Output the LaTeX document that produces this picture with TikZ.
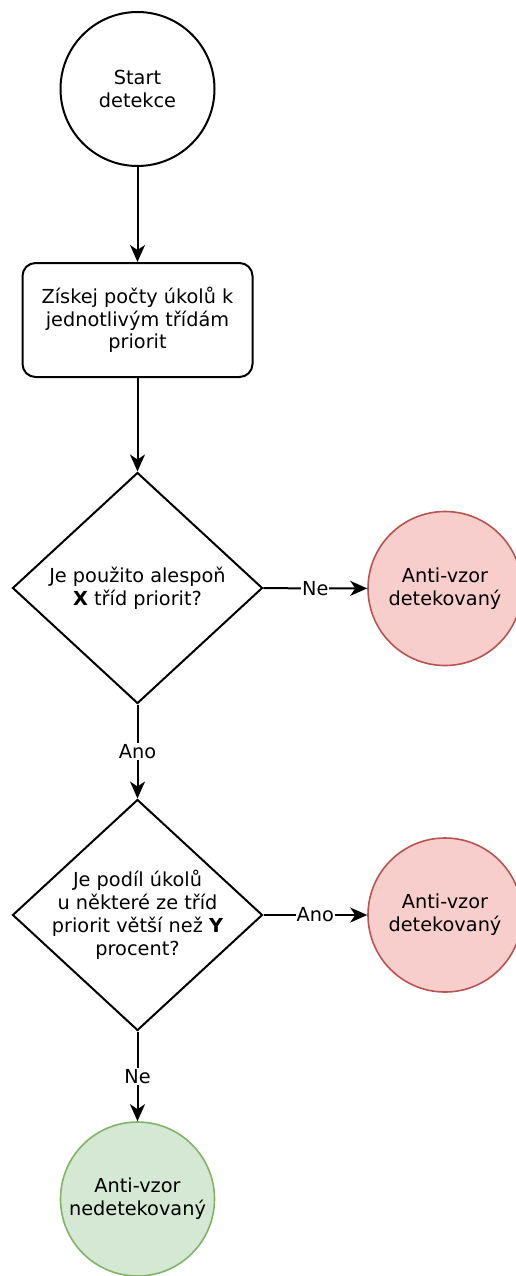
\documentclass[tikz,border=0pt]{standalone}
\usepackage{fontspec}
\setmainfont{DejaVu Sans}
\usetikzlibrary{shapes.geometric,arrows.meta}
\definecolor{redfill}{HTML}{F8CECC}
\definecolor{redline}{HTML}{B85450}
\definecolor{greenfill}{HTML}{D5E8D4}
\definecolor{greenline}{HTML}{82B366}

\begin{document}
\begin{tikzpicture}[x=1pt,y=-1pt,
  every node/.style={font=\fontsize{19.3}{22.8}\selectfont, align=center},
  startcircle/.style={circle, draw, line width=2pt, minimum size=154pt, inner sep=0pt},
  stepbox/.style={rectangle, draw, line width=2pt, rounded corners=13pt,
    minimum width=230pt, minimum height=114pt, inner sep=0pt},
  decision/.style={diamond, draw, line width=2pt, minimum width=250pt,
    minimum height=231pt, inner sep=0pt},
  redend/.style={circle, draw=redline, fill=redfill, line width=1.6pt,
    minimum size=154pt, inner sep=0pt},
  greenend/.style={circle, draw=greenline, fill=greenfill, line width=1.6pt,
    minimum size=154pt, inner sep=0pt},
  flow/.style={line width=2pt, -{Stealth[length=17pt,width=15pt,inset=5pt]}},
  edgelabel/.style={fill=white, inner sep=1pt}
]
\useasboundingbox (0,0) rectangle (515,1276);

% shapes
\node[startcircle] (start) at (137.5,89) {Start\\detekce};
\node[stepbox] (count) at (137.5,320) {Získej počty úkolů k\\jednotlivým třídám\\priorit};
\node[decision, label={center:Je použito alespoň\\{\bfseries X} tříd priorit?}] (q1) at (137.5,588) {};
\node[redend] (hit1) at (445,588.5) {Anti-vzor\\detekovaný};
\node[decision, label={center:Je podíl úkolů\\u některé ze tříd\\priorit větší než {\bfseries Y}\\procent?}] (q2) at (137.5,915) {};
\node[redend] (hit2) at (445,915) {Anti-vzor\\detekovaný};
\node[greenend] (ok) at (137.5,1199) {Anti-vzor\\nedetekovaný};

% connectors
\draw[flow] (start) -- (count);
\draw[flow] (count) -- (q1);
\draw[flow] (q1) -- node[edgelabel] {Ne} (hit1);
\draw[flow] (q1) -- node[edgelabel] {Ano} (q2);
\draw[flow] (q2) -- node[edgelabel] {Ano} (hit2);
\draw[flow] (q2) -- node[edgelabel] {Ne} (ok);
\end{tikzpicture}
\end{document}
